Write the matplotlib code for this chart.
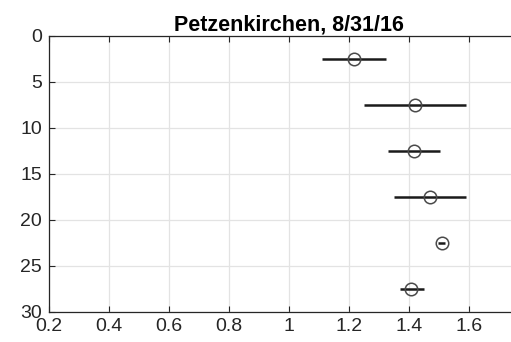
import numpy as np
import matplotlib
matplotlib.use('Agg')
import matplotlib.pyplot as plt

plt.rcParams['font.family'] = ['Liberation Sans', 'DejaVu Sans']

# depth of each layer (cm) and mean value with lower/upper extent
depth = [2.5, 7.5, 12.5, 17.5, 22.5, 27.5]
mean_val = [1.216, 1.421, 1.416, 1.469, 1.509, 1.408]
low_val = [1.109, 1.251, 1.329, 1.349, 1.497, 1.370]
high_val = [1.322, 1.591, 1.503, 1.589, 1.521, 1.450]

x_ticks = [0.2, 0.4, 0.6, 0.8, 1.0, 1.2, 1.4, 1.6]
x_labels = ['0.2', '0.4', '0.6', '0.8', '1', '1.2', '1.4', '1.6']
y_ticks = [0, 5, 10, 15, 20, 25, 30]

W, H = 511, 342
fig = plt.figure(figsize=(W / 100, H / 100), dpi=100)
# axes runs past the right edge of the figure
ax = fig.add_axes([49 / W, 1 - 312 / H, (529 - 49) / W, (312 - 36) / H])

mean_val = np.array(mean_val)
xerr = [mean_val - np.array(low_val), np.array(high_val) - mean_val]
ax.errorbar(mean_val, depth, xerr=xerr, fmt='none', ecolor='#1a1a1a',
            elinewidth=1.8, capsize=0, zorder=3)
ax.plot(mean_val, depth, 'o', ms=9, mfc='none', mec='#4a4a4a', mew=1.1, zorder=4)

ax.set_xlim(0.2, 1.8)
ax.set_ylim(30, 0)
ax.set_xticks(x_ticks)
ax.set_xticklabels(x_labels)
ax.set_yticks(y_ticks)
ax.grid(True, color='#e3e3e3', linewidth=0.9)
ax.set_axisbelow(True)

for s in ax.spines.values():
    s.set_color('#262626')
    s.set_linewidth(0.9)
ax.tick_params(direction='in', length=4, width=0.8, color='#262626',
               labelsize=14, labelcolor='#262626', top=True, right=True)
ax.tick_params(axis='y', pad=5)
ax.tick_params(axis='x', pad=4.5)

ax.set_title('Petzenkirchen, 8/31/16', fontsize=15.5, fontweight='bold', pad=4)

fig.savefig('out.png', dpi=100)
